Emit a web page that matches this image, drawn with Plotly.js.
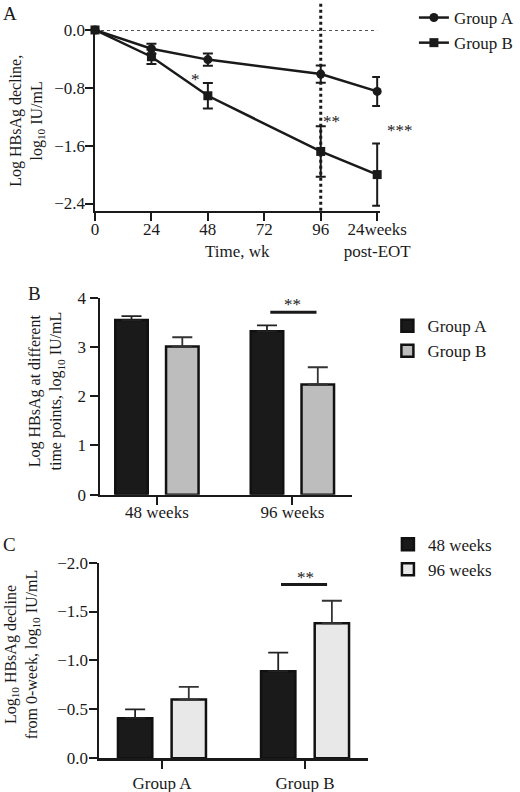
<!DOCTYPE html>
<html>
<head>
<meta charset="utf-8">
<script src="https://cdn.plot.ly/plotly-3.0.1.min.js"></script>
<style>
  html, body { margin: 0; padding: 0; background: #fff; }
  #chart { width: 520px; height: 792px; }
</style>
</head>
<body>
<div id="chart"></div>
<script>
// Panel A: log HBsAg decline over time
var timeVals = [0, 24, 48, 96, 120];
var timeTickVals = [0, 24, 48, 72, 96, 120];
var timeTickText = ['0', '24', '48', '72', '96', '24weeks<br>post-EOT'];
var declineGroupA = [0, -0.26, -0.41, -0.61, -0.85];
var declineGroupAErr = [0, 0.07, 0.085, 0.12, 0.2];
var declineGroupB = [0, -0.37, -0.91, -1.68, -2.0];
var declineGroupBErr = [0, 0.1, 0.175, 0.35, 0.43];

// Panel B: log HBsAg at time points
var timepoints = ['48 weeks', '96 weeks'];
var levelGroupA = [3.55, 3.32];
var levelGroupAErr = [0.08, 0.12];
var levelGroupB = [3.01, 2.24];
var levelGroupBErr = [0.19, 0.35];

// Panel C: decline from week 0
var groups = ['Group A', 'Group B'];
var decline48 = [-0.41, -0.89];
var decline48Err = [0.09, 0.19];
var decline96 = [-0.60, -1.38];
var decline96Err = [0.13, 0.23];

// significance marks: [x0, x1, y, label]
var sigB = [0.837, 1.178, 3.71, '**'];
var sigC = [0.832, 1.154, -1.776, '**'];

var ink = '#1a1a1a';
var font = 'Liberation Serif, Times New Roman, serif';

function zeros(a) { return a.map(function(){ return 0; }); }

var traces = [
  {x: timeVals, y: declineGroupA, xaxis: 'x', yaxis: 'y', name: 'Group A',
   mode: 'lines+markers', legend: 'legend', legendgroup: 'a',
   line: {color: ink, width: 2.5}, marker: {symbol: 'circle', size: 9, color: ink},
   error_y: {type: 'data', array: declineGroupAErr, color: ink, thickness: 2, width: 5},
   cliponaxis: false},
  {x: timeVals, y: declineGroupB, xaxis: 'x', yaxis: 'y', name: 'Group B',
   mode: 'lines+markers', legend: 'legend', legendgroup: 'b',
   line: {color: ink, width: 2.5}, marker: {symbol: 'square', size: 9, color: ink},
   error_y: {type: 'data', array: declineGroupBErr, color: ink, thickness: 2, width: 5},
   cliponaxis: false},

  {type: 'bar', x: timepoints, y: levelGroupA, xaxis: 'x2', yaxis: 'y2', name: 'Group A',
   legend: 'legend2', legendgroup: 'ba',
   marker: {color: ink, line: {color: '#111', width: 2.5}},
   error_y: {type: 'data', symmetric: false, array: levelGroupAErr, arrayminus: zeros(levelGroupAErr),
             color: '#222', thickness: 1.8, width: 10}},
  {type: 'bar', x: timepoints, y: levelGroupB, xaxis: 'x2', yaxis: 'y2', name: 'Group B',
   legend: 'legend2', legendgroup: 'bb',
   marker: {color: '#bdbdbd', line: {color: '#111', width: 2.5}},
   error_y: {type: 'data', symmetric: false, array: levelGroupBErr, arrayminus: zeros(levelGroupBErr),
             color: '#333', thickness: 1.8, width: 10}},

  {type: 'bar', x: groups, y: decline48, xaxis: 'x3', yaxis: 'y3', name: '48 weeks',
   legend: 'legend3', legendgroup: 'c48',
   marker: {color: ink, line: {color: '#111', width: 2.5}},
   error_y: {type: 'data', symmetric: false, array: zeros(decline48Err), arrayminus: decline48Err,
             color: '#222', thickness: 1.8, width: 10}},
  {type: 'bar', x: groups, y: decline96, xaxis: 'x3', yaxis: 'y3', name: '96 weeks',
   legend: 'legend3', legendgroup: 'c96',
   marker: {color: '#e8e8e8', line: {color: '#111', width: 2.5}},
   error_y: {type: 'data', symmetric: false, array: zeros(decline96Err), arrayminus: decline96Err,
             color: '#333', thickness: 1.8, width: 10}}
];

function axis(extra) {
  var a = {showline: true, linecolor: ink, linewidth: 2.5, ticks: 'outside', ticklen: 8,
           tickwidth: 2, tickcolor: ink, showgrid: false, zeroline: false,
           tickfont: {size: 17, color: ink, family: font}, fixedrange: true};
  for (var k in extra) a[k] = extra[k];
  return a;
}

function legendAt(x, y, gap) {
  return {x: x, y: y, xanchor: 'left', yanchor: 'top', bgcolor: 'rgba(0,0,0,0)',
          font: {size: 17, color: ink, family: font}, traceorder: 'grouped', tracegroupgap: gap};
}

function note(text, x, y, size, extra) {
  var a = {text: text, xref: 'paper', yref: 'paper', x: x, y: y, showarrow: false,
           xanchor: 'center', yanchor: 'middle', font: {size: size}};
  for (var k in extra) a[k] = extra[k];
  return a;
}

var layout = {
  width: 520, height: 792,
  margin: {l: 0, r: 0, t: 0, b: 0},
  paper_bgcolor: '#fff', plot_bgcolor: '#fff',
  font: {family: font, color: ink, size: 17},
  showlegend: true,
  bargap: 0.25, bargroupgap: 0.36, barmode: 'group',

  xaxis: axis({domain: [95/520, 380/520], range: [0, 121.2], tickvals: timeTickVals,
               ticktext: timeTickText, anchor: 'y', ticklabelstandoff: -7}),
  yaxis: axis({domain: [1 - 210/792, 1 - 29/792], range: [-2.5, 0], tickvals: [0, -0.8, -1.6, -2.4],
               tickformat: '.1f', anchor: 'x', ticklabelstandoff: -4}),

  xaxis2: axis({domain: [100/520, 352/520], range: [-0.42, 1.44], anchor: 'y2', ticklabelstandoff: -8}),
  yaxis2: axis({domain: [1 - 494.3/792, 1 - 297.3/792], range: [0, 4], dtick: 1, anchor: 'x2',
                ticklabelstandoff: 0}),

  xaxis3: axis({domain: [99/520, 368/520], range: [-0.44, 1.44], anchor: 'y3'}),
  yaxis3: axis({domain: [1 - 758.3/792, 1 - 562.3/792], range: [0, -2], dtick: 0.5,
                tickformat: '.1f', anchor: 'x3', ticklabelstandoff: -3}),

  legend: legendAt(0.796, 1.0015, 0),
  legend2: legendAt(0.745, 0.611, 0),
  legend3: legendAt(0.746, 0.335, 0),

  shapes: [
    {type: 'line', xref: 'x', yref: 'y', x0: 0, x1: 120, y0: 0, y1: 0,
     line: {color: ink, width: 1.5, dash: 'dot'}},
    {type: 'line', xref: 'x', yref: 'paper', x0: 96, x1: 96, y0: 1 - 210/792, y1: 1,
     line: {color: ink, width: 3, dash: 'dot'}},
    {type: 'line', xref: 'x2', yref: 'y2', x0: sigB[0], x1: sigB[1], y0: sigB[2], y1: sigB[2],
     line: {color: ink, width: 3}},
    {type: 'line', xref: 'x3', yref: 'y3', x0: sigC[0], x1: sigC[1], y0: sigC[2], y1: sigC[2],
     line: {color: ink, width: 3}}
  ],

  annotations: [
    // panel letters
    note('A', 10/520, 1 - 13/792, 19),
    note('B', 34/520, 1 - 293/792, 19),
    note('C', 9/520, 1 - 544/792, 19),
    // axis titles
    note('Log HBsAg decline,<br>log<sub>10</sub> IU/mL', 27/520, 1 - 120/792, 16, {textangle: -90}),
    note('Time, wk', 237/520, 1 - 251/792, 17),
    note('Log HBsAg at different<br>time points, log<sub>10</sub> IU/mL', 46/520, 1 - 391/792, 16, {textangle: -90}),
    note('Log<sub>10</sub> HBsAg decline<br>from 0-week, log<sub>10</sub> IU/mL', 22/520, 1 - 655/792, 16, {textangle: -90}),
    // significance stars
    {text: '*', xref: 'x', yref: 'y', x: 42.8, y: -0.68, showarrow: false, font: {size: 17}},
    {text: '**', xref: 'x', yref: 'y', x: 100.7, y: -1.27, showarrow: false, font: {size: 17}},
    note('***', 400/520, 1 - 129.5/792, 17),
    {text: sigB[3], xref: 'x2', yref: 'y2', x: 1, y: 3.86, showarrow: false, font: {size: 17}},
    {text: sigC[3], xref: 'x3', yref: 'y3', x: 1, y: -1.845, showarrow: false, font: {size: 17}}
  ]
};

Plotly.newPlot('chart', traces, layout, {staticPlot: true});
</script>
</body>
</html>
